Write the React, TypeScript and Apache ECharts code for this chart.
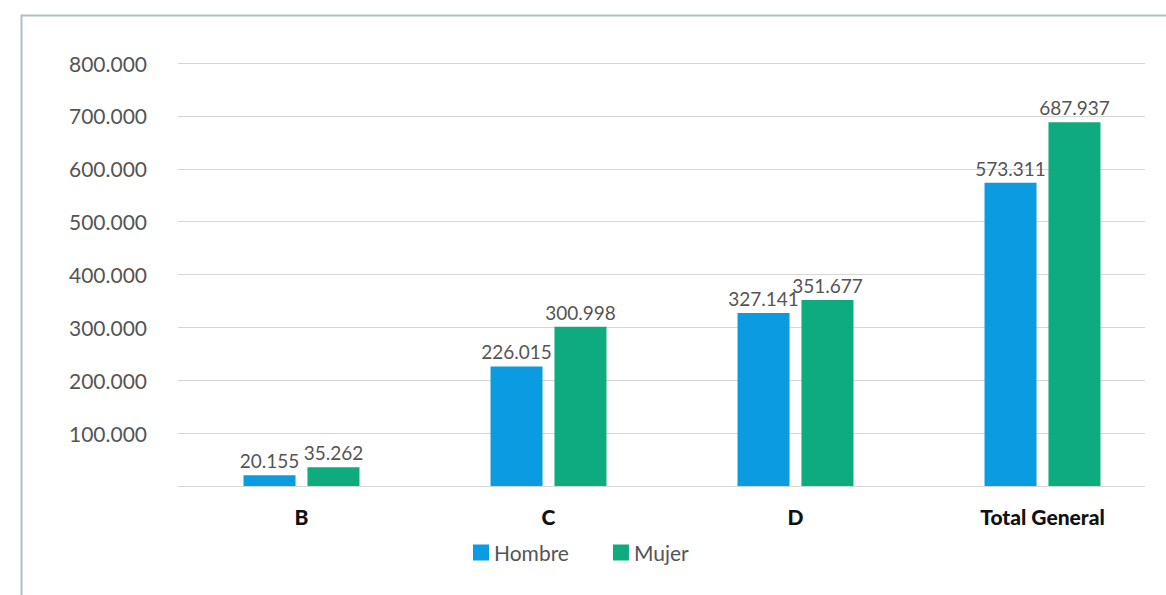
import React, { useEffect, useRef } from "react";
import * as echarts from "echarts";

const categories = ["B", "C", "D", "Total General"];
const hombre = [20155, 226015, 327141, 573311];
const mujer = [35262, 300998, 351677, 687937];
const seriesNames = ["Hombre", "Mujer"];
const yTicks = { min: 0, max: 800000, interval: 100000 };

function fmt(v: number): string {
  const s = Math.round(v).toString();
  return s.replace(/\B(?=(\d{3})+(?!\d))/g, ".");
}

export default function App() {
  const ref = useRef<HTMLDivElement>(null);
  useEffect(() => {
    document.body.style.margin = "0";
    const chart = echarts.init(ref.current!, null, { renderer: "svg" });
    const labelStyle = {
      show: true,
      position: "top" as const,
      distance: 5,
      fontFamily: "Lato",
      fontWeight: 400,
      fontSize: 19,
      color: "#555555",
      formatter: (p: any) => fmt(p.value),
    };
    chart.setOption({
      animation: false,
      backgroundColor: "#ffffff",
      graphic: [
        {
          type: "rect",
          left: 19,
          top: 13,
          shape: { width: 1200, height: 640 },
          style: { fill: "none", stroke: "#a9c1c8", lineWidth: 2 },
          silent: true,
        },
      ],
      grid: [
        { left: 178, right: 21, top: 63, bottom: 109, containLabel: false },
        { left: 178, right: 0, top: 63, bottom: 109, containLabel: false },
      ],
      legend: {
        data: seriesNames,
        top: 542,
        left: 473,
        padding: 0,
        itemWidth: 16,
        itemHeight: 16,
        itemGap: 44,
        icon: "rect",
        textStyle: { fontFamily: "Lato", fontWeight: 400, fontSize: 21, color: "#555555" },
      },
      xAxis: [
        {
          type: "category",
          gridIndex: 0,
          data: categories,
          show: false,
        },
        {
          type: "category",
          gridIndex: 1,
          data: categories,
          axisLine: { show: false },
          axisTick: { show: false },
          axisLabel: {
            margin: 20,
            fontFamily: "Lato",
            fontWeight: 900,
            fontSize: 21,
            color: "#111111",
          },
        },
      ],
      yAxis: [
        {
          type: "value",
          gridIndex: 0,
          min: yTicks.min,
          max: yTicks.max,
          interval: yTicks.interval,
          axisLine: { show: false },
          axisTick: { show: false },
          splitLine: { lineStyle: { color: "#d6d6d6", width: 1 } },
          axisLabel: {
            margin: 31,
            fontFamily: "Lato",
            fontWeight: 400,
            fontSize: 21,
            color: "#555555",
            formatter: (v: number) => (v === 0 ? "" : fmt(v)),
          },
        },
        {
          type: "value",
          gridIndex: 1,
          min: yTicks.min,
          max: yTicks.max,
          interval: yTicks.interval,
          show: false,
          splitLine: { show: false },
        },
      ],
      series: [
        {
          name: seriesNames[0],
          type: "bar",
          xAxisIndex: 1,
          yAxisIndex: 1,
          data: hombre,
          barWidth: 52,
          barGap: "23%",
          itemStyle: { color: "#0a9be0" },
          label: labelStyle,
        },
        {
          name: seriesNames[1],
          type: "bar",
          xAxisIndex: 1,
          yAxisIndex: 1,
          data: mujer,
          barWidth: 52,
          itemStyle: { color: "#0dab7e" },
          label: labelStyle,
        },
      ],
    });
    return () => chart.dispose();
  }, []);
  return <div ref={ref} style={{ width: 1166, height: 595 }} />;
}
